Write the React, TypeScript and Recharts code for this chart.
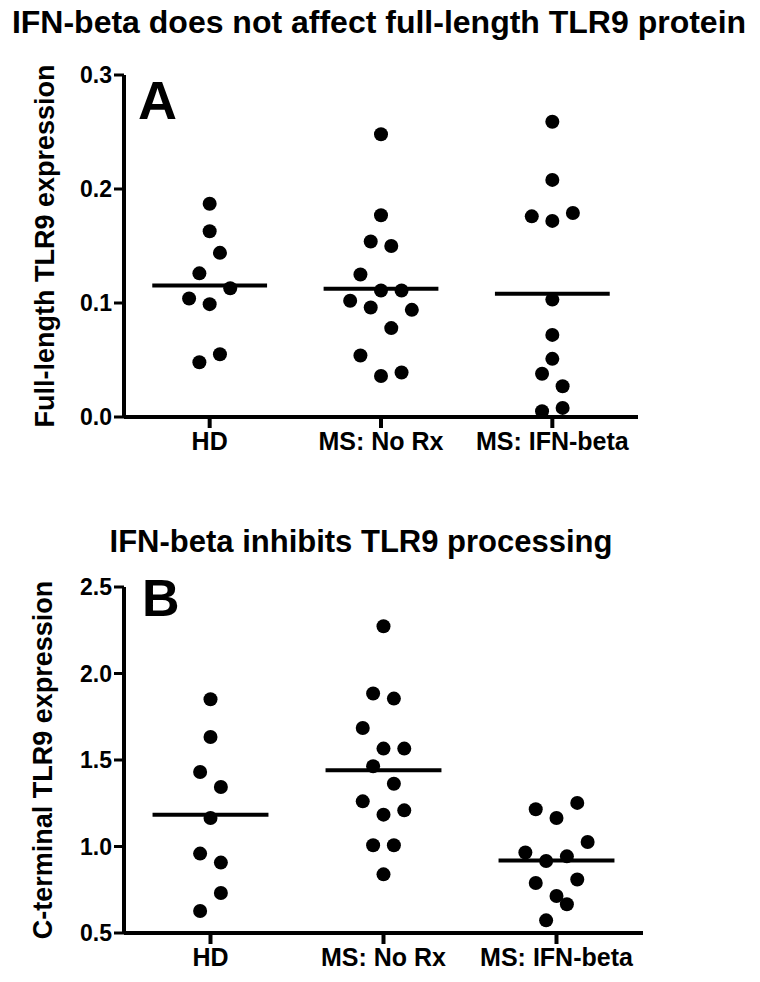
import {
  ScatterChart,
  Scatter,
  XAxis,
  YAxis,
  ReferenceLine,
} from "recharts";

const groups = ["HD", "MS: No Rx", "MS: IFN-beta"];

// panel A: full-length TLR9
const hdA = [0.187, 0.163, 0.144, 0.126, 0.113, 0.104, 0.099, 0.055, 0.048];
const noRxA = [0.248, 0.177, 0.154, 0.15, 0.125, 0.111, 0.111, 0.102, 0.096, 0.094, 0.078, 0.054, 0.036, 0.039];
const ifnA = [0.259, 0.208, 0.176, 0.172, 0.179, 0.103, 0.072, 0.051, 0.038, 0.027, 0.005, 0.008];

// panel B: C-terminal TLR9
const hdB = [1.851, 1.633, 1.431, 1.344, 1.165, 0.959, 0.907, 0.731, 0.627];
const noRxB = [2.273, 1.884, 1.855, 1.685, 1.566, 1.566, 1.464, 1.363, 1.261, 1.184, 1.209, 1.007, 1.007, 0.839];
const ifnB = [1.215, 1.165, 1.252, 1.026, 0.965, 0.916, 0.943, 0.789, 0.809, 0.714, 0.666, 0.573];

// horizontal scatter slot of each dot (as in the figure)
const hdASlots = [0, 0, 1, -1, 2, -2, 0, 1, -1];
const noRxASlots = [0, 0, -1, 1, -2, 0, 2, -3, -1, 3, 1, -2, 0, 2];
const ifnASlots = [0, 0, -2, 0, 2, 0, 0, 0, -1, 1, -1, 1];
const hdBSlots = [0, 0, -1, 1, 0, -1, 1, 1, -1];
const noRxBSlots = [0, -1, 1, -2, 0, 2, -1, 1, -2, 0, 2, -1, 1, 0];
const ifnBSlots = [-2, 0, 2, 3, -3, -1, 1, -2, 2, 0, 1, -1];

const yTicksA = [0, 0.1, 0.2, 0.3];
const yTicksB = [0.5, 1.0, 1.5, 2.0, 2.5];

const FONT = "'Liberation Sans', Arial, sans-serif";
const SLOT = 0.06;
const HALF = 0.335;

const toPoints = (vals: number[], slots: number[], g: number) =>
  vals.map((v, i) => ({ x: g + 1 + slots[i] * SLOT, y: v }));

const mean = (vals: number[]) => vals.reduce((a, b) => a + b, 0) / vals.length;

const Dot = (props: any) => <circle cx={props.cx} cy={props.cy} r={7} fill="#000" />;

interface PanelProps {
  series: number[][];
  slots: number[][];
  domain: [number, number];
  ticks: number[];
  width: number;
  height: number;
  margin: { top: number; right: number; bottom: number; left: number };
}

function Panel({ series, slots, domain, ticks, width, height, margin }: PanelProps) {
  const data = series.map((vals, g) => toPoints(vals, slots[g], g));
  return (
    <ScatterChart width={width} height={height} margin={margin}>
      <XAxis
        type="number"
        dataKey="x"
        domain={[0.5, 3.5]}
        ticks={[1, 2, 3]}
        interval={0}
        height={40}
        tickFormatter={(v) => groups[Math.round(v) - 1]}
        axisLine={{ stroke: "#000", strokeWidth: 4 }}
        tickLine={{ stroke: "#000", strokeWidth: 4 }}
        tickSize={11}
        tickMargin={4}
        tick={{ fill: "#000", fontSize: 25, fontWeight: "bold", fontFamily: FONT }}
      />
      <YAxis
        type="number"
        dataKey="y"
        domain={domain}
        ticks={ticks}
        width={124}
        tickFormatter={(v) => v.toFixed(1)}
        axisLine={{ stroke: "#000", strokeWidth: 4 }}
        tickLine={{ stroke: "#000", strokeWidth: 3 }}
        tickSize={10}
        tickMargin={2}
        tick={{ fill: "#000", fontSize: 23, fontWeight: "bold", fontFamily: FONT }}
      />
      {data.map((pts, g) => (
        <Scatter key={g} data={pts} shape={Dot} isAnimationActive={false} />
      ))}
      {series.map((vals, g) => (
        <ReferenceLine
          key={"m" + g}
          segment={[
            { x: g + 1 - HALF, y: mean(vals) },
            { x: g + 1 + HALF, y: mean(vals) },
          ]}
          stroke="#000"
          strokeWidth={4}
        />
      ))}
    </ScatterChart>
  );
}

export default function App() {
  return (
    <div style={{ position: "absolute", left: 0, top: 0, width: 760, height: 982, background: "#fff" }}>
      <div style={{ position: "absolute", left: 0, top: 0 }}>
        <Panel
          series={[hdA, noRxA, ifnA]}
          slots={[hdASlots, noRxASlots, ifnASlots]}
          domain={[0, 0.3]}
          ticks={yTicksA}
          width={760}
          height={500}
          margin={{ top: 75, right: 122, bottom: 43, left: 0 }}
        />
      </div>
      <div style={{ position: "absolute", left: 0, top: 500 }}>
        <Panel
          series={[hdB, noRxB, ifnB]}
          slots={[hdBSlots, noRxBSlots, ifnBSlots]}
          domain={[0.5, 2.5]}
          ticks={yTicksB}
          width={760}
          height={482}
          margin={{ top: 87, right: 117, bottom: 9, left: 0 }}
        />
      </div>
      <svg
        width={760}
        height={982}
        style={{ position: "absolute", left: 0, top: 0, pointerEvents: "none" }}
        fontFamily={FONT}
        fontWeight="bold"
      >
        <text x={379} y={33} fontSize={32} textAnchor="middle">
          IFN-beta does not affect full-length TLR9 protein
        </text>
        <text x={361} y={552} fontSize={31} textAnchor="middle">
          IFN-beta inhibits TLR9 processing
        </text>
        <text x={138} y={119} fontSize={54}>A</text>
        <text x={142} y={616} fontSize={52}>B</text>
        <text
          x={45}
          y={246}
          fontSize={27}
          textAnchor="middle"
          dominantBaseline="central"
          transform="rotate(-90 45 246)"
        >
          Full-length TLR9 expression
        </text>
        <text
          x={43}
          y={760}
          fontSize={27}
          textAnchor="middle"
          dominantBaseline="central"
          transform="rotate(-90 43 760)"
        >
          C-terminal TLR9 expression
        </text>
      </svg>
    </div>
  );
}
